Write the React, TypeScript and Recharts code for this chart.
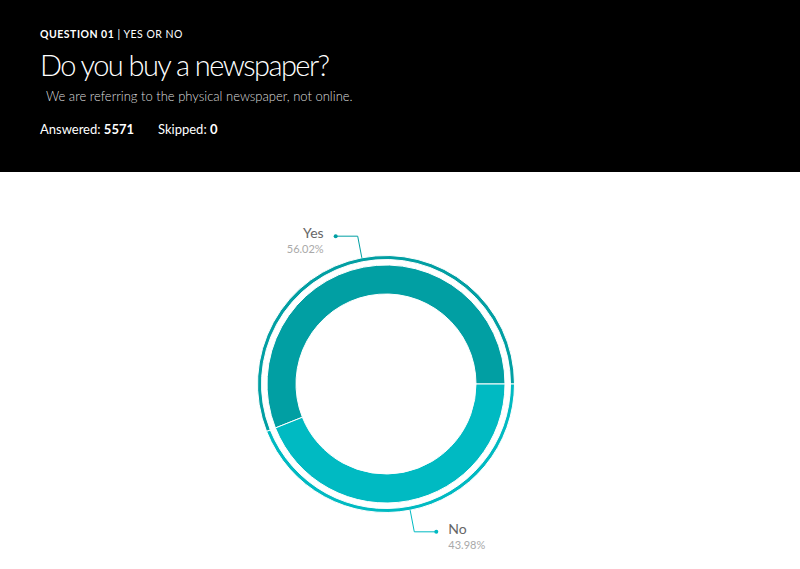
import React from 'react';
import { PieChart, Pie, Cell } from 'recharts';

const categories = ['Yes', 'No'];
const counts = [3121, 2450];
const skipped = 0;
const sliceColors = ['#019fa3', '#00bac2'];

const answered = counts.reduce((a, b) => a + b, 0);
const data = categories.map((name, i) => ({ name, value: counts[i] }));

const FONT = '"Source Sans Pro", Lato, "Open Sans", sans-serif';
const RADIAN = Math.PI / 180;

function renderLabel(props: any) {
  const { cx, cy, midAngle, outerRadius, index, fill } = props;
  const cos = Math.cos(-midAngle * RADIAN);
  const sin = Math.sin(-midAngle * RADIAN);
  const sx = cx + outerRadius * cos;
  const sy = cy + outerRadius * sin;
  const mx = cx + (outerRadius + 22) * cos;
  const my = cy + (outerRadius + 22) * sin;
  const dir = cos >= 0 ? 1 : -1;
  const ex = mx + dir * 22;
  const tx = ex + dir * 12;
  const pct = ((counts[index] / answered) * 100).toFixed(2) + '%';
  return (
    <g key={`lbl-${index}`}>
      <polyline
        points={`${sx},${sy} ${mx},${my} ${ex},${my}`}
        fill="none"
        stroke={fill}
        strokeWidth={1}
      />
      <circle cx={ex} cy={my} r={2} fill={fill} />
      <text
        x={tx}
        y={my + 2}
        textAnchor={dir > 0 ? 'start' : 'end'}
        fontSize={14}
        fill="#666"
        fontFamily={FONT}
      >
        {categories[index]}
      </text>
      <text
        x={tx}
        y={my + 17}
        textAnchor={dir > 0 ? 'start' : 'end'}
        fontSize={11}
        fill="#a9a9a9"
        fontFamily={FONT}
      >
        {pct}
      </text>
    </g>
  );
}

export default function App() {
  return (
    <div style={{ width: 800, height: 569, background: '#fff', fontFamily: FONT }}>
      <style>{'body{margin:0}'}</style>
      <div style={{ position: 'relative', width: 800, height: 172, background: '#000', color: '#fff' }}>
        <div style={{ position: 'absolute', left: 40, top: 28, fontSize: 10.5, letterSpacing: 0.5, whiteSpace: 'nowrap' }}>
          <span style={{ fontWeight: 700 }}>QUESTION 01</span>
          <span> | YES OR NO</span>
        </div>
        <div
          style={{
            position: 'absolute',
            left: 40,
            top: 47,
            fontSize: 29,
            fontWeight: 300,
            letterSpacing: -1.55,
            whiteSpace: 'nowrap',
          }}
        >
          Do you buy a newspaper?
        </div>
        <div style={{ position: 'absolute', left: 46, top: 88, fontSize: 13, color: '#dedede', fontWeight: 300, whiteSpace: 'nowrap' }}>
          We are referring to the physical newspaper, not online.
        </div>
        <div style={{ position: 'absolute', left: 40, top: 121, fontSize: 13, whiteSpace: 'nowrap' }}>
          Answered: <b>{answered}</b>
        </div>
        <div style={{ position: 'absolute', left: 158, top: 121, fontSize: 13, whiteSpace: 'nowrap' }}>
          Skipped: <b>{skipped}</b>
        </div>
      </div>
      <PieChart width={800} height={397} margin={{ top: 0, right: 0, bottom: 0, left: 0 }}>
        <Pie
          data={data}
          dataKey="value"
          nameKey="name"
          cx={386}
          cy={212}
          innerRadius={90}
          outerRadius={119}
          startAngle={0}
          endAngle={360}
          stroke="#fff"
          strokeWidth={1}
          isAnimationActive={false}
        >
          {data.map((d, i) => (
            <Cell key={d.name} fill={sliceColors[i]} />
          ))}
        </Pie>
        <Pie
          data={data}
          dataKey="value"
          nameKey="name"
          cx={386}
          cy={212}
          innerRadius={124.5}
          outerRadius={128.5}
          startAngle={0}
          endAngle={360}
          stroke="#fff"
          strokeWidth={1}
          label={renderLabel}
          labelLine={false}
          isAnimationActive={false}
        >
          {data.map((d, i) => (
            <Cell key={d.name} fill={sliceColors[i]} />
          ))}
        </Pie>
      </PieChart>
    </div>
  );
}
